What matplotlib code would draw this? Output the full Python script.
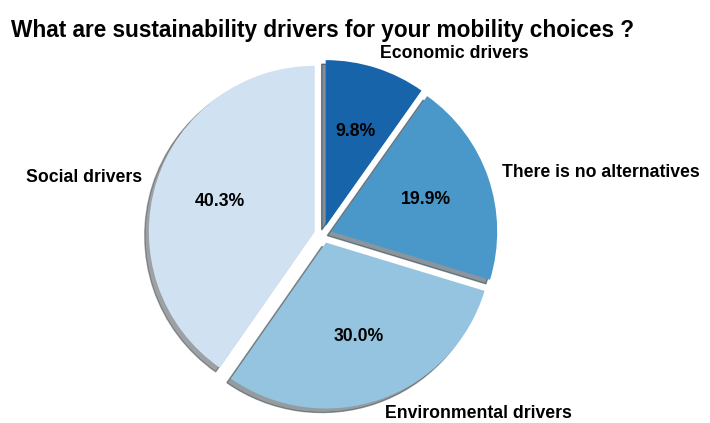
import matplotlib
matplotlib.use("Agg")
import matplotlib.pyplot as plt
import numpy as np

labels = ["Economic drivers", "There is no alternatives", "Environmental drivers", "Social drivers"]
shares = [9.8, 19.9, 30.0, 40.3]
explode = [0.06, 0.06, 0.06, 0.06]

plt.rcParams['font.family'] = ['Liberation Sans', 'DejaVu Sans']

colors = plt.cm.Blues([0.8, 0.6, 0.4, 0.2])

fig = plt.figure(figsize=(7.1, 4.23), dpi=100)
ax = fig.add_axes([0.040, 0.016, 0.83, 0.86])
wedges, texts, autotexts = ax.pie(shares, labels=labels, colors=colors, explode=explode,
                                  startangle=90, counterclock=False, shadow=True,
                                  autopct='%1.1f%%', radius=1.14, labeldistance=1.09,
                                  textprops={'fontsize': 12.7, 'fontweight': 'bold'})
ax.set_aspect('equal')
fig.text(0.015, 0.90, "What are sustainability drivers for your mobility choices ?",
         fontsize=16.3, fontweight='bold', ha='left', va='bottom')

plt.savefig('out.png', dpi=100)
